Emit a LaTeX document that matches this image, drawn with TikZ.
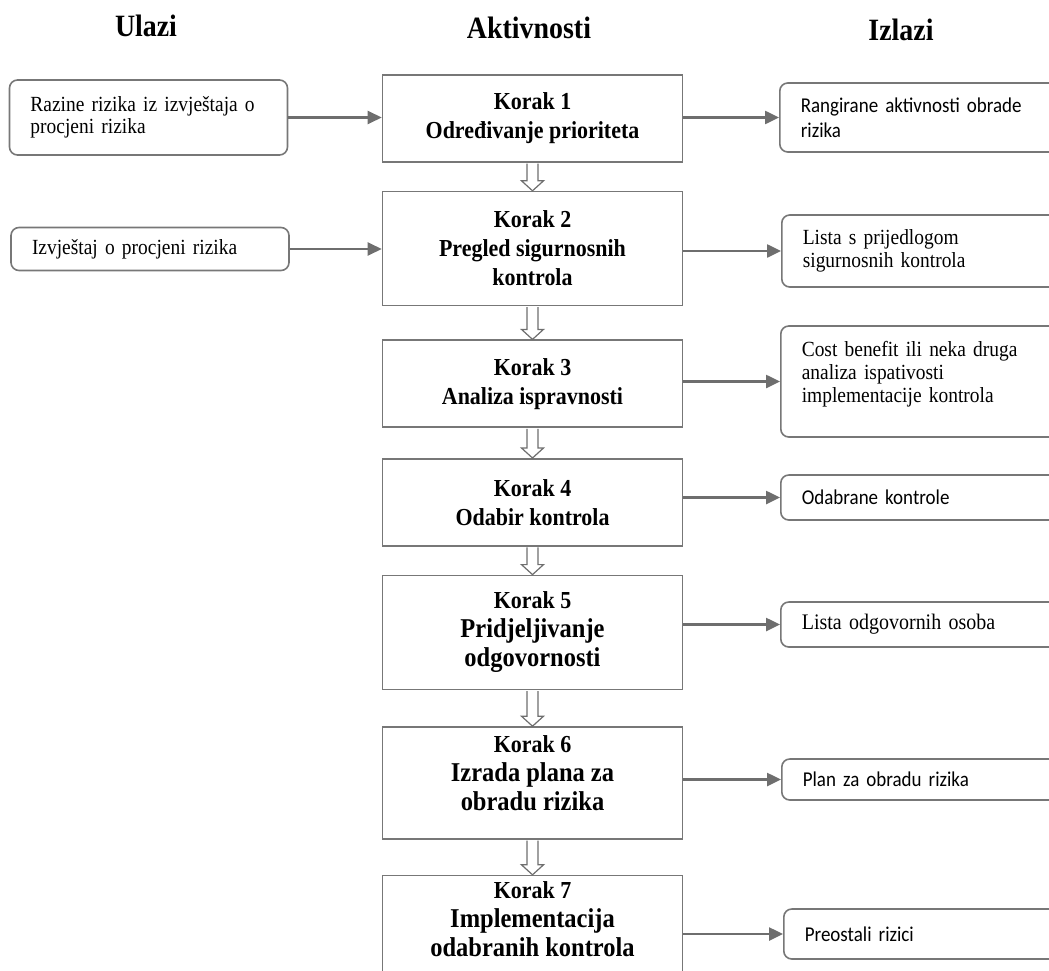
\documentclass[tikz,border=0pt]{standalone}
\usepackage{fontspec}
\setmainfont{Liberation Serif}[FakeStretch=0.9]
\newfontfamily\calibfont{Carlito}[FakeStretch=0.9]
\usetikzlibrary{positioning,arrows.meta,calc}

\definecolor{linegray}{HTML}{6E6E6E}
\definecolor{boxgray}{HTML}{777777}

\newcommand{\veci}{\fontsize{27.2}{29}\selectfont}
\newcommand{\prazna}[2]{%
  \draw[prazno] let \p1=(#1.south), \p2=(#2.north) in
    (\x1-5.5pt,\y1-0.8pt) -- (\x1-5.5pt,\y2+10pt) -- (\x1-11pt,\y2+10pt) -- (\x1,\y2)
    -- (\x1+11pt,\y2+10pt) -- (\x1+5.5pt,\y2+10pt) -- (\x1+5.5pt,\y1-0.8pt);}

\begin{document}
\begin{tikzpicture}[x=1pt, y=-1pt, >={Triangle[length=14pt,width=13pt]}]
    \tikzstyle{naslov} = [anchor=base, inner sep=0pt, font=\fontsize{31}{36}\selectfont\bfseries]
    \tikzstyle{korak} = [draw=boxgray, line width=1.6pt, minimum width=300pt, inner sep=0pt, align=center, font=\fontsize{24.4}{29}\selectfont\bfseries]
    \tikzstyle{ulaz} = [draw=boxgray, line width=1.6pt, rounded corners=8pt, text width=236pt, inner xsep=21pt, inner ysep=0pt, align=left, font=\fontsize{21.6}{22.5}\selectfont]
    \tikzstyle{izlaz} = [draw=boxgray, line width=1.6pt, rounded corners=8pt, anchor=west, text width=248pt, inner xsep=21pt, inner ysep=0pt, align=left, font=\fontsize{21.6}{23}\selectfont]
    \tikzstyle{sans} = [font=\calibfont\fontsize{21.1}{25}\selectfont]
    \tikzstyle{tok} = [draw=linegray, line width=2.5pt, ->]
    \tikzstyle{prazno} = [draw=linegray, line width=1.2pt, fill=white, line join=miter]

    \useasboundingbox (0,0) rectangle (1049,971);
    \clip (0,0) rectangle (1049,971);

    % naslovi stupaca
    \node[naslov] (hUlazi) at (146,37) {Ulazi};
    \node[naslov] (hAktivnosti) at (529,39) {Aktivnosti};
    \node[naslov] (hIzlazi) at (901,41) {Izlazi};

    % koraci
    \node[korak, minimum height=87pt] (K1) at (532.5,118.5) {Korak 1\\ Određivanje prioriteta};
    \node[korak, minimum height=114pt, below=28pt of K1] (K2) {Korak 2\\ Pregled sigurnosnih\\ kontrola};
    \node[korak, minimum height=87pt, below=33pt of K2] (K3) {Korak 3\\ Analiza ispravnosti};
    \node[korak, minimum height=87pt, below=30pt of K3] (K4) {Korak 4\\ Odabir kontrola};
    \node[korak, minimum height=114pt, below=28pt of K4] (K5) {Korak 5\\ \veci Pridjeljivanje\\ \veci odgovornosti};
    \node[korak, minimum height=112pt, below=36pt of K5] (K6) {Korak 6\\ \veci Izrada plana za\\ \veci obradu rizika\rule[-20pt]{0pt}{20pt}};
    \node[korak, minimum height=110pt, below=35pt of K6] (K7) {Korak 7\\ \veci Implementacija\\ \veci odabranih kontrola\rule[-24pt]{0pt}{24pt}};

    % ulazi
    \node[ulaz, minimum height=75pt] (U1) at (148.5,117.5) {Razine rizika iz izvještaja o\\ procjeni rizika};
    \node[ulaz, minimum height=43pt] (U2) at (150,249) {Izvještaj o procjeni rizika};

    % izlazi
    \node[izlaz, sans, minimum height=69pt] (I1) at (779,117.5) {Rangirane aktivnosti obrade\\ rizika};
    \node[izlaz, minimum height=72pt] (I2) at (781,251) {Lista s prijedlogom\\ sigurnosnih kontrola};
    \node[izlaz, minimum height=111pt] (I3) at (780,381.5) {Cost benefit ili neka druga\\ analiza ispativosti\\ implementacije kontrola\rule[-19pt]{0pt}{19pt}};
    \node[izlaz, sans, minimum height=45pt] (I4) at (780,497.5) {Odabrane kontrole};
    \node[izlaz, minimum height=45pt, font=\fontsize{22.2}{23}\selectfont] (I5) at (780,624.5) {Lista odgovornih osoba};
    \node[izlaz, sans, minimum height=41pt] (I6) at (781,779.5) {Plan za obradu rizika};
    \node[izlaz, sans, minimum height=50pt] (I7) at (783,934) {Preostali rizici};

    % strelice
    \draw[tok] (U1.east) -- (U1.east -| K1.west);
    \draw[tok] (U2.east) -- (U2.east -| K2.west);
    \foreach \i in {1,...,7}
        \draw[tok] (K\i.east |- I\i.west) -- (I\i.west);
    \foreach \a/\b in {1/2,2/3,3/4,4/5,5/6,6/7}
        \prazna{K\a}{K\b};
\end{tikzpicture}
\end{document}
